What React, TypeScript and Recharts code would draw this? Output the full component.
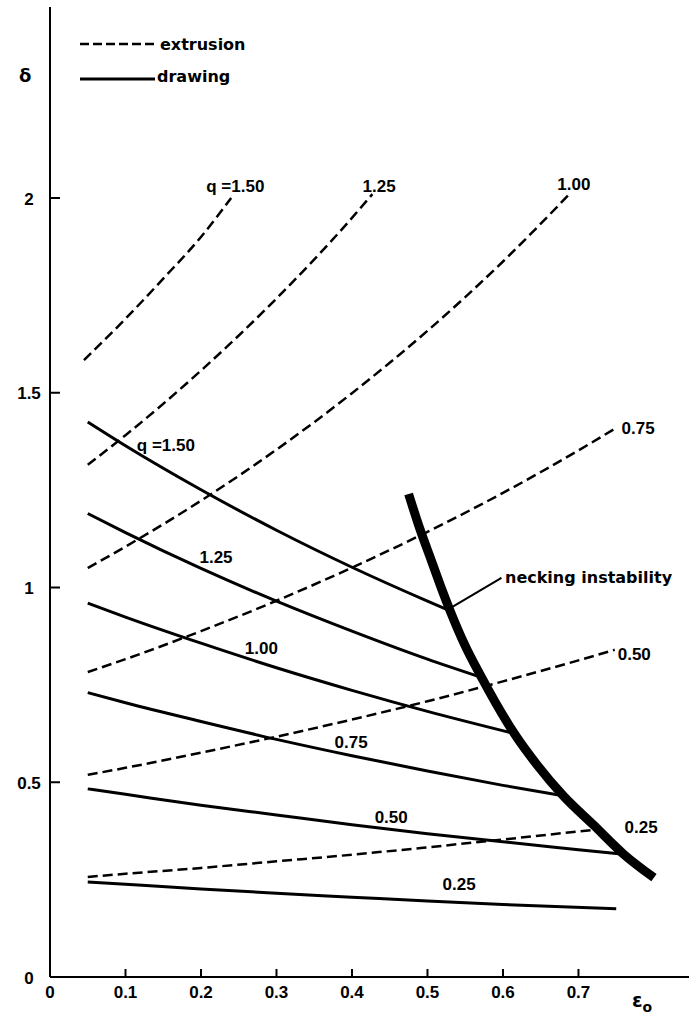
import { LineChart, Line, XAxis, YAxis, ReferenceDot } from "recharts";

// axis ticks
const xTicks = [0, 0.1, 0.2, 0.3, 0.4, 0.5, 0.6, 0.7];
const xTickLabels = ["0", "0.1", "0.2", "0.3", "0.4", "0.5", "0.6", "0.7"];
const yTicks = [0, 0.5, 1, 1.5, 2];
const yTickLabels = ["0", "0.5", "1", "1.5", "2"];

// extrusion curves (dashed) as [eps, delta]
const ext150 = [[0.045, 1.584], [0.1, 1.69], [0.15, 1.793], [0.2, 1.9], [0.24, 2.0]];
const ext125 = [[0.05, 1.315], [0.1, 1.391], [0.2, 1.557], [0.3, 1.742], [0.4, 1.949], [0.427, 2.01]];
const ext100 = [[0.05, 1.05], [0.1, 1.105], [0.2, 1.223], [0.3, 1.354], [0.4, 1.499], [0.5, 1.659], [0.6, 1.837], [0.688, 2.01]];
const ext075 = [[0.05, 0.783], [0.1, 0.816], [0.2, 0.888], [0.3, 0.966], [0.4, 1.051], [0.5, 1.143], [0.6, 1.243], [0.7, 1.352], [0.75, 1.41]];
const ext050 = [[0.05, 0.519], [0.1, 0.537], [0.2, 0.576], [0.3, 0.617], [0.4, 0.661], [0.5, 0.708], [0.6, 0.759], [0.7, 0.813], [0.748, 0.84]];
const ext025 = [[0.05, 0.257], [0.1, 0.265], [0.2, 0.28], [0.3, 0.297], [0.4, 0.314], [0.5, 0.333], [0.6, 0.353], [0.73, 0.38]];

// drawing curves (solid)
const dr150 = [[0.05, 1.425], [0.1, 1.364], [0.2, 1.251], [0.3, 1.147], [0.4, 1.052], [0.5, 0.965], [0.53, 0.94]];
const dr125 = [[0.05, 1.19], [0.1, 1.141], [0.2, 1.049], [0.3, 0.965], [0.4, 0.888], [0.5, 0.816], [0.57, 0.77]];
const dr100 = [[0.05, 0.96], [0.1, 0.924], [0.2, 0.857], [0.3, 0.794], [0.4, 0.736], [0.5, 0.682], [0.615, 0.625]];
const dr075 = [[0.05, 0.73], [0.1, 0.704], [0.2, 0.656], [0.3, 0.61], [0.4, 0.568], [0.5, 0.529], [0.6, 0.492], [0.68, 0.465]];
const dr050 = [[0.05, 0.483], [0.1, 0.469], [0.2, 0.441], [0.3, 0.416], [0.4, 0.391], [0.5, 0.368], [0.6, 0.347], [0.7, 0.327], [0.76, 0.315]];
const dr025 = [[0.05, 0.244], [0.1, 0.238], [0.2, 0.226], [0.3, 0.215], [0.4, 0.205], [0.5, 0.195], [0.6, 0.186], [0.75, 0.175]];

// necking instability boundary and its leader
const necking = [[0.475, 1.24], [0.49, 1.15], [0.505, 1.07], [0.52, 0.99], [0.53, 0.94], [0.55, 0.85], [0.57, 0.775], [0.59, 0.705], [0.615, 0.625], [0.645, 0.545], [0.68, 0.465], [0.72, 0.39], [0.76, 0.315], [0.8, 0.255]];
const leader = [[0.533, 0.95], [0.598, 1.025]];

// curve labels [text, eps, delta]
const curveLabels: [string, number, number][] = [
  ["q =1.50", 0.207, 2.015],
  ["1.25", 0.414, 2.015],
  ["1.00", 0.672, 2.02],
  ["0.75", 0.757, 1.393],
  ["0.50", 0.752, 0.814],
  ["0.25", 0.761, 0.37],
  ["q =1.50", 0.115, 1.35],
  ["1.25", 0.198, 1.063],
  ["1.00", 0.258, 0.829],
  ["0.75", 0.377, 0.588],
  ["0.50", 0.43, 0.395],
  ["0.25", 0.52, 0.223],
];

const toPts = (arr: number[][]) => arr.map(([e, d]) => ({ e, d }));

const extrusion = [ext150, ext125, ext100, ext075, ext050, ext025];
const drawing = [dr150, dr125, dr100, dr075, dr050, dr025];

const NUM_FONT = "'Liberation Sans', Arial, sans-serif";
const TXT_FONT = "'DejaVu Sans', sans-serif";
const PLOT_LEFT = 50;
const PLOT_BOTTOM = 977;

const YTick = (props: any) => {
  const { y, payload } = props;
  const i = yTicks.indexOf(payload.value);
  return (
    <g>
      {payload.value !== 0 && (
        <line x1={PLOT_LEFT} x2={PLOT_LEFT + 10} y1={y} y2={y} stroke="#000" strokeWidth={2} />
      )}
      <text x={29} y={y + 6.5} textAnchor="middle" fontFamily={NUM_FONT} fontWeight="bold" fontSize={17} fill="#000">
        {yTickLabels[i]}
      </text>
    </g>
  );
};

const XTick = (props: any) => {
  const { x, payload } = props;
  const i = xTicks.indexOf(payload.value);
  return (
    <g>
      {payload.value !== 0 && (
        <line x1={x} x2={x} y1={PLOT_BOTTOM} y2={PLOT_BOTTOM - 8} stroke="#000" strokeWidth={2} />
      )}
      <text x={x} y={998} textAnchor="middle" fontFamily={NUM_FONT} fontWeight="bold" fontSize={17} fill="#000">
        {xTickLabels[i]}
      </text>
    </g>
  );
};

export default function App() {
  return (
    <div style={{ position: "absolute", left: 0, top: 0, width: 689, height: 1016, background: "#fff" }}>
      <LineChart width={689} height={1016} margin={{ top: 7, right: 0, left: 0, bottom: 0 }}>
        <XAxis
          dataKey="e"
          type="number"
          domain={[0, 0.8464]}
          ticks={xTicks}
          height={39}
          tickLine={false}
          axisLine={{ stroke: "#000", strokeWidth: 2 }}
          tick={<XTick />}
          allowDataOverflow
        />
        <YAxis
          type="number"
          domain={[0, 2.4904]}
          ticks={yTicks}
          width={50}
          tickLine={false}
          axisLine={{ stroke: "#000", strokeWidth: 2 }}
          tick={<YTick />}
          allowDataOverflow
        />
        {extrusion.map((s, i) => (
          <Line
            key={"ext" + i}
            data={toPts(s)}
            dataKey="d"
            type="monotone"
            stroke="#000"
            strokeWidth={2.5}
            strokeDasharray="10 5"
            dot={false}
            isAnimationActive={false}
          />
        ))}
        {drawing.map((s, i) => (
          <Line
            key={"dr" + i}
            data={toPts(s)}
            dataKey="d"
            type="monotone"
            stroke="#000"
            strokeWidth={3}
            dot={false}
            isAnimationActive={false}
          />
        ))}
        <Line data={toPts(necking)} dataKey="d" type="monotone" stroke="#000" strokeWidth={9} dot={false} isAnimationActive={false} />
        <Line data={toPts(leader)} dataKey="d" type="linear" stroke="#000" strokeWidth={2} dot={false} isAnimationActive={false} />
        {curveLabels.map(([t, e, d], i) => (
          <ReferenceDot
            key={"lbl" + i}
            x={e}
            y={d}
            r={0}
            shape={(p: any) => (
              <text x={p.cx} y={p.cy} fontFamily={NUM_FONT} fontWeight="bold" fontSize={17} fill="#000">
                {t}
              </text>
            )}
          />
        ))}
      </LineChart>
      <svg width={689} height={1016} style={{ position: "absolute", left: 0, top: 0, pointerEvents: "none" }}>
        <text x={19} y={82} fontFamily={TXT_FONT} fontWeight="bold" fontSize={18} fill="#000">δ</text>
        <line x1={80} x2={155} y1={44} y2={44} stroke="#000" strokeWidth={2.5} strokeDasharray="9 4" />
        <text x={160} y={50} fontFamily={TXT_FONT} fontWeight="bold" fontSize={16} fill="#000">extrusion</text>
        <line x1={80} x2={155} y1={79} y2={79} stroke="#000" strokeWidth={3} />
        <text x={157} y={82} fontFamily={TXT_FONT} fontWeight="bold" fontSize={16} fill="#000">drawing</text>
        <text x={505} y={583} fontFamily={TXT_FONT} fontWeight="bold" fontSize={16} fill="#000">necking instability</text>
        <text x={632} y={1007} fontFamily={TXT_FONT} fontWeight="bold" fontSize={19} fill="#000">
          ε<tspan dy={5} fontSize={14}>o</tspan>
        </text>
      </svg>
    </div>
  );
}
